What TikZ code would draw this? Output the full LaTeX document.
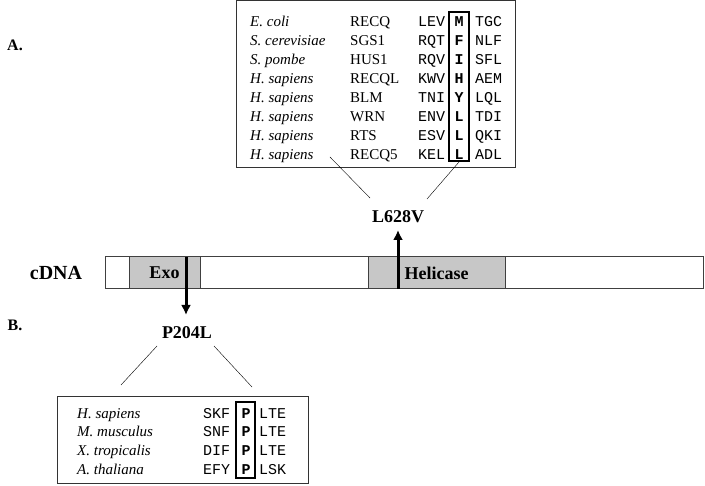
\documentclass[tikz,border=0pt]{standalone}
\usepackage{fontspec}
\setmainfont{Liberation Serif}
\setmonofont{Liberation Mono}
\usetikzlibrary{arrows.meta}
\usetikzlibrary{positioning}
\tikzset{panel/.style = {draw=black!80, line width=1pt, inner sep=0}}
\tikzset{hibox/.style = {draw, line width=2pt, inner sep=0}}
\tikzset{txt/.style = {font=\fontsize{15}{15}\selectfont, inner sep=0, anchor=base west}}
\tikzset{seq/.style = {font=\fontsize{15}{15}\selectfont\ttfamily, inner sep=0, anchor=base west}}
\tikzset{res/.style = {font=\fontsize{15}{15}\selectfont\ttfamily\bfseries, inner sep=0, anchor=base}}
\tikzset{lbl/.style = {font=\fontsize{18}{18}\selectfont\bfseries, inner sep=0}}
\tikzset{dombox/.style = {draw=black!75, line width=1pt, fill=black!22, inner sep=0,
                          font=\fontsize{18}{18}\selectfont\bfseries}}
\tikzset{mutarrow/.style = {line width=3pt, -{Latex[length=10pt, width=10pt]}}}

\begin{document}
\begin{tikzpicture}[x=1pt, y=-1pt]
      \useasboundingbox (0,0) rectangle (705,486);

      % panel A
      \node [lbl, font=\fontsize{16}{16}\selectfont\bfseries] (labA) at (15,45) {A.};
      \node [panel, minimum width=279, minimum height=167] (boxA) at (375.5,84.5) {};
      \node [hibox, minimum width=20, minimum height=149] (hiA) at (459,86.5) {};
      \foreach \sp/\gene/\pre/\res/\post [count=\i] in
          {{E. coli}/RECQ/LEV/M/TGC, {S. cerevisiae}/SGS1/RQT/F/NLF,
           {S. pombe}/HUS1/RQV/I/SFL, {H. sapiens}/RECQL/KWV/H/AEM,
           {H. sapiens}/BLM/TNI/Y/LQL, {H. sapiens}/WRN/ENV/L/TDI,
           {H. sapiens}/RTS/ESV/L/QKI, {H. sapiens}/RECQ5/KEL/L/ADL} {
        \node [txt, font=\fontsize{15}{15}\selectfont\itshape] (spA\i) at (250, 8+19*\i) {\sp};
        \node [txt] (geneA\i) at (350, 8+19*\i) {\gene};
        \node [seq] (preA\i) at (418, 8+19*\i) {\pre};
        \node [res] (resA\i) at (459, 8+19*\i) {\res};
        \node [seq] (postA\i) at (475, 8+19*\i) {\post};
      }

      % cDNA bar
      \node [lbl, font=\fontsize{20}{20}\selectfont\bfseries] (cdna) at (56,273) {cDNA};
      \draw [draw=black!75, line width=1pt] (105,257) rectangle (703,289);
      \node [dombox, minimum width=71, minimum height=32] (exo) at (164.5,273) {Exo};
      \node [dombox, minimum width=137, minimum height=32] (heli) at (436.5,273) {Helicase};

      % mutations
      \node [lbl] (mutA) at (398,217) {L628V};
      \node [lbl] (mutB) at (187,333) {P204L};
      \coordinate (heliCut) at (398,289);
      \coordinate (tipA) at (398,230);
      \coordinate (exoCut) at (186,257);
      \coordinate (tipB) at (186,315);
      \draw [mutarrow] (heliCut) -- (tipA);
      \draw [mutarrow] (exoCut) -- (tipB);

      \coordinate (fanAl) at (330,157);
      \coordinate (endAl) at (370,198);
      \coordinate (endAr) at (427,199);
      \draw (fanAl) -- (endAl);
      \draw (hiA.south) -- (endAr);

      % panel B
      \node [lbl, font=\fontsize{16}{16}\selectfont\bfseries] (labB) at (15,325) {B.};
      \coordinate (fanBl) at (157,346);
      \coordinate (endBl) at (121,385);
      \coordinate (fanBr) at (214,346);
      \coordinate (endBr) at (252,387);
      \draw (fanBl) -- (endBl);
      \draw (fanBr) -- (endBr);
      \node [panel, minimum width=251, minimum height=87] (boxB) at (182.5,440.5) {};
      \node [hibox, minimum width=19, minimum height=76] (hiB) at (245.5,440) {};
      \foreach \sp/\pre/\res/\post [count=\i] in
          {{H. sapiens}/SKF/P/LTE, {M. musculus}/SNF/P/LTE,
           {X. tropicalis}/DIF/P/LTE, {A. thaliana}/EFY/P/LSK} {
        \node [txt, font=\fontsize{15}{15}\selectfont\itshape] (spB\i) at (77, 399.5+18.7*\i) {\sp};
        \node [seq] (preB\i) at (203, 399.5+18.7*\i) {\pre};
        \node [res] (resB\i) at (246, 399.5+18.7*\i) {\res};
        \node [seq] (postB\i) at (259, 399.5+18.7*\i) {\post};
      }
\end{tikzpicture}
\end{document}
